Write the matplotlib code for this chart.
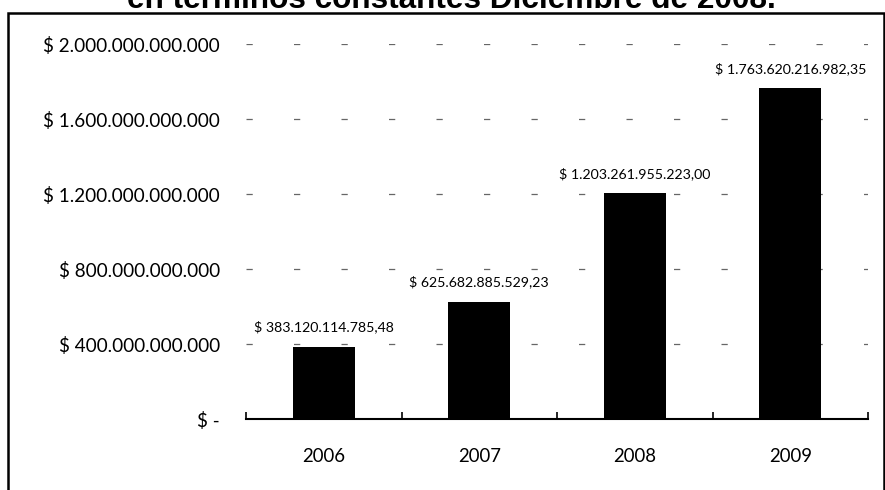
import matplotlib
matplotlib.use("Agg")
import matplotlib.pyplot as plt
from matplotlib.patches import Rectangle
from matplotlib.ticker import FuncFormatter

years = ["2006", "2007", "2008", "2009"]
values = [383120114785.48, 625682885529.23, 1203261955223.00, 1763620216982.35]
y_ticks = [0, 400e9, 800e9, 1200e9, 1600e9, 2000e9]
title = "en términos constantes Diciembre de 2008."

def miles(n):
    return f"{n:,.0f}".replace(",", ".")

def fmt_tick(v, pos=None):
    if v == 0:
        return "$ -"
    return "$ " + miles(v)

def fmt_label(v):
    ent = int(v)
    dec = round((v - ent) * 100)
    return "$ " + miles(ent) + "," + f"{dec:02d}"

W, H = 885, 490
fig = plt.figure(figsize=(W / 100, H / 100), dpi=100)
fig.patch.set_facecolor("white")

# outer frame (top and left visible, right at image edge)
fig.add_artist(Rectangle((8 / W, -0.01), (884 - 8) / W, (H - 13) / H + 0.01,
                         transform=fig.transFigure, fill=False, edgecolor="black", lw=1.8))

# title: only its lower part is visible in the reference (cut at top edge)
fig.text(451 / W, 1 - 8 / H, title, ha="center", va="baseline",
         fontsize=22.7, fontweight="bold", family="Liberation Sans")

ax = fig.add_axes([246 / W, 1 - 419 / H, (868 - 246) / W, (419 - 44) / H])
x = list(range(len(years)))
ax.bar(x, values, width=0.4, color="black", zorder=3)
ax.set_xlim(-0.5, len(years) - 0.5)
ax.set_ylim(0, 2000e9)
ax.set_yticks(y_ticks)
ax.yaxis.set_major_formatter(FuncFormatter(fmt_tick))
ax.set_xticks(x)
ax.set_xticklabels(years)
for lab in ax.get_yticklabels():
    lab.set_family("Lato"); lab.set_fontsize(13.6)
for lab in ax.get_xticklabels():
    lab.set_family("Lato"); lab.set_fontsize(13.4)
ax.tick_params(axis="y", length=0, pad=18.7)
ax.tick_params(axis="x", length=0, pad=21)
ax.set_xticks([i - 0.5 for i in range(len(years) + 1)], minor=True)
ax.tick_params(axis="x", which="minor", length=5, direction="in", width=1.2)
for s in ["top", "right", "left"]:
    ax.spines[s].set_visible(False)
ax.spines["bottom"].set_linewidth(1.5)
ax.yaxis.grid(True, color="#666666", linestyle=(0, (5, 33)), lw=0.9)
ax.set_axisbelow(True)

for xi, v in zip(x, values):
    ax.annotate(fmt_label(v), (xi, v), xytext=(0, 14.4), textcoords="offset points",
                ha="center", va="center", fontsize=10.2, family="Lato")

fig.savefig("out.png", dpi=100)
